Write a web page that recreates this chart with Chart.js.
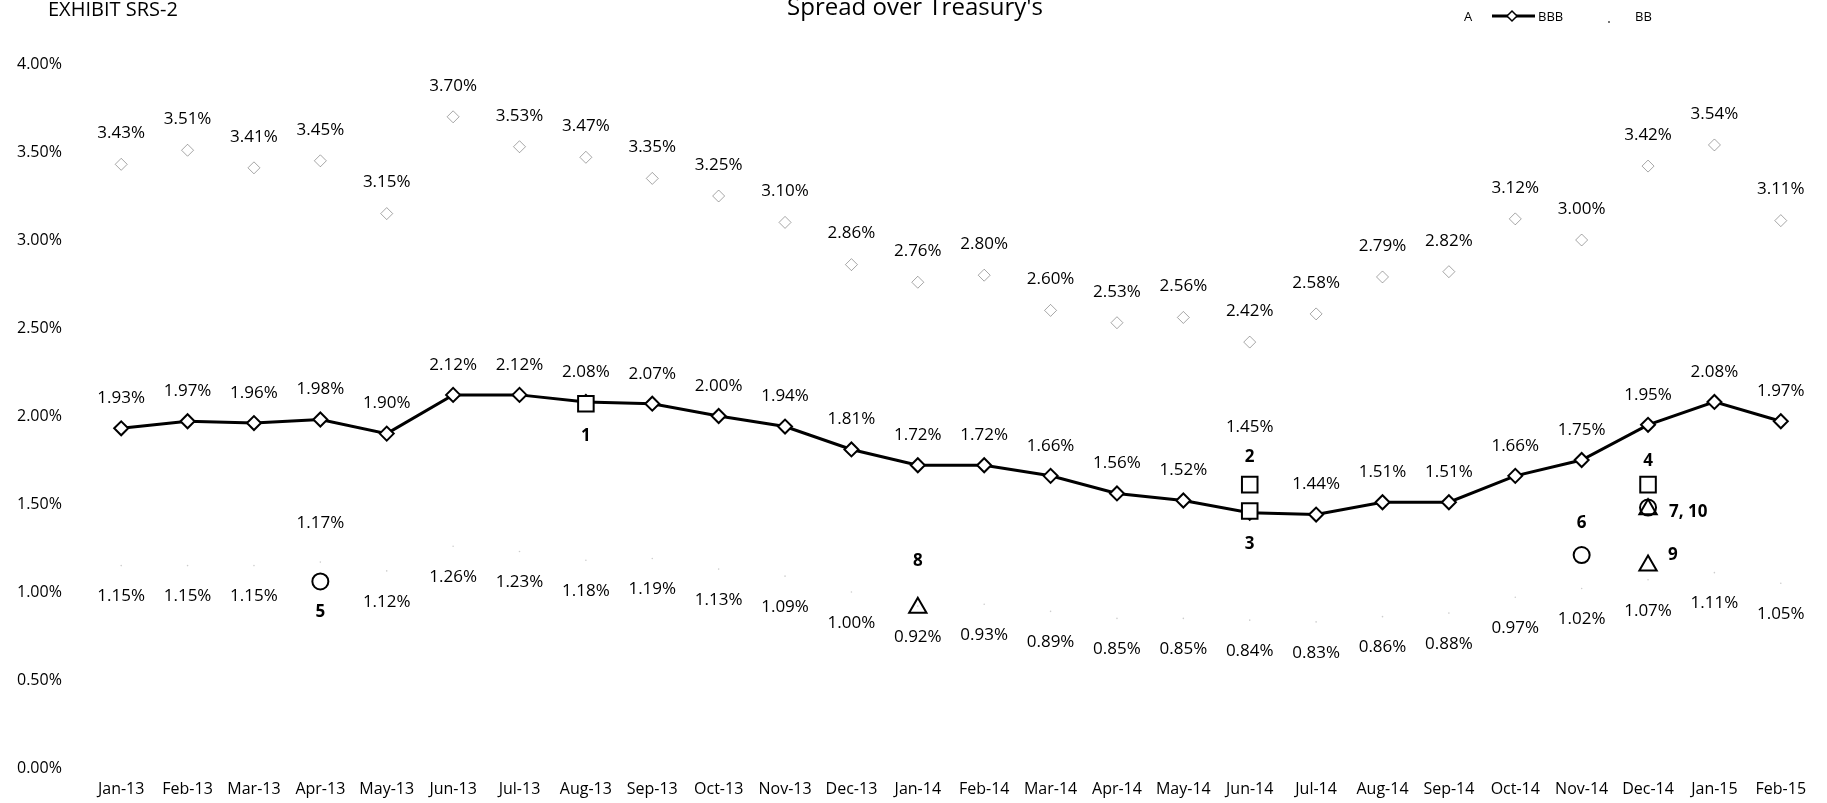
<!DOCTYPE html>
<html lang="en">
<head>
    <meta charset="UTF-8">
    <title>Spread over Treasury's</title>
    <script src="https://cdn.jsdelivr.net/npm/chart.js"></script>
    <style>
        body {
            margin: 0;
            background-color: #fff;
        }

        .chart-box {
            position: relative;
            width: 1827px;
            height: 803px;
        }
    </style>
</head>
<body>
    <div class="chart-box">
        <canvas id="spreadChart"></canvas>
    </div>

    <script>
        // Months on the x axis
        const months = ['Jan-13', 'Feb-13', 'Mar-13', 'Apr-13', 'May-13', 'Jun-13', 'Jul-13', 'Aug-13', 'Sep-13',
            'Oct-13', 'Nov-13', 'Dec-13', 'Jan-14', 'Feb-14', 'Mar-14', 'Apr-14', 'May-14', 'Jun-14', 'Jul-14',
            'Aug-14', 'Sep-14', 'Oct-14', 'Nov-14', 'Dec-14', 'Jan-15', 'Feb-15'];

        // Spreads in percent
        const spreadA = [1.15, 1.15, 1.15, 1.17, 1.12, 1.26, 1.23, 1.18, 1.19, 1.13, 1.09, 1.00, 0.92,
            0.93, 0.89, 0.85, 0.85, 0.84, 0.83, 0.86, 0.88, 0.97, 1.02, 1.07, 1.11, 1.05];
        const spreadBBB = [1.93, 1.97, 1.96, 1.98, 1.90, 2.12, 2.12, 2.08, 2.07, 2.00, 1.94, 1.81, 1.72,
            1.72, 1.66, 1.56, 1.52, 1.45, 1.44, 1.51, 1.51, 1.66, 1.75, 1.95, 2.08, 1.97];
        const spreadBB = [3.43, 3.51, 3.41, 3.45, 3.15, 3.70, 3.53, 3.47, 3.35, 3.25, 3.10, 2.86, 2.76,
            2.80, 2.60, 2.53, 2.56, 2.42, 2.58, 2.79, 2.82, 3.12, 3.00, 3.42, 3.54, 3.11];

        // Numbered markers placed on the chart
        const squareMonths = ['Aug-13', 'Jun-14', 'Jun-14', 'Dec-14'];
        const squareValues = [2.07, 1.61, 1.46, 1.61];
        const squareTags = ['1', '2', '3', '4'];

        const circleMonths = ['Apr-13', 'Nov-14', 'Dec-14'];
        const circleValues = [1.06, 1.21, 1.48];
        const circleTags = ['5', '6', '7, 10'];

        const triangleMonths = ['Jan-14', 'Dec-14', 'Dec-14'];
        const triangleValues = [0.91, 1.15, 1.47];
        const triangleTags = ['8', '9', ''];

        const yTicks = [0, 0.5, 1, 1.5, 2, 2.5, 3, 3.5, 4];

        function toPoints(xs, ys) {
            return xs.map((m, i) => ({ x: m, y: ys[i] }));
        }

        const FONT = '"Open Sans", "Noto Sans", sans-serif';

        // value labels above / below the points
        const valueLabels = {
            id: 'valueLabels',
            afterDatasetsDraw(chart, args, opts) {
                const ctx = chart.ctx;
                ctx.save();
                ctx.font = '17px ' + FONT;
                ctx.fillStyle = '#000';
                ctx.textAlign = 'center';
                ctx.textBaseline = 'middle';
                chart.data.datasets.forEach((ds, i) => {
                    const cfg = opts.series[ds.label];
                    if (!cfg) return;
                    chart.getDatasetMeta(i).data.forEach((pt, j) => {
                        const dy = cfg.shift[j] !== undefined ? cfg.shift[j] : cfg.dy;
                        ctx.fillText(ds.data[j].toFixed(2) + '%', pt.x, pt.y + dy);
                    });
                });

                // marker numbers
                ctx.font = 'bold 17px ' + FONT;
                chart.data.datasets.forEach((ds, i) => {
                    if (!ds.tags) return;
                    const offs = opts.tagOffsets[ds.label];
                    chart.getDatasetMeta(i).data.forEach((pt, j) => {
                        if (!ds.tags[j]) return;
                        ctx.textAlign = offs[j][0] > 0 ? 'left' : 'center';
                        ctx.fillText(ds.tags[j], pt.x + offs[j][0], pt.y + offs[j][1]);
                    });
                });
                ctx.restore();
            }
        };

        // exhibit name, title and legend
        const header = {
            id: 'header',
            afterDraw(chart) {
                const ctx = chart.ctx;
                ctx.save();
                ctx.fillStyle = '#000';
                ctx.textBaseline = 'alphabetic';
                ctx.textAlign = 'left';
                ctx.font = '20px ' + FONT;
                ctx.fillText('EXHIBIT SRS-2', 48, 16);

                ctx.textAlign = 'center';
                ctx.font = '24px ' + FONT;
                ctx.fillText("Spread over Treasury's", 915, 15);

                ctx.textAlign = 'left';
                ctx.textBaseline = 'middle';
                ctx.font = '13px ' + FONT;
                ctx.fillText('A', 1464, 17);

                ctx.strokeStyle = '#000';
                ctx.lineWidth = 3;
                ctx.beginPath();
                ctx.moveTo(1492, 16);
                ctx.lineTo(1535, 16);
                ctx.stroke();
                ctx.lineWidth = 1.5;
                ctx.fillStyle = '#fff';
                ctx.beginPath();
                ctx.moveTo(1507, 16);
                ctx.lineTo(1512, 11);
                ctx.lineTo(1517, 16);
                ctx.lineTo(1512, 21);
                ctx.closePath();
                ctx.fill();
                ctx.stroke();
                ctx.fillStyle = '#000';
                ctx.fillText('BBB', 1538, 17);

                ctx.fillStyle = '#777';
                ctx.fillRect(1608, 21, 2, 2);
                ctx.fillStyle = '#000';
                ctx.fillText('BB', 1635, 17);
                ctx.restore();
            }
        };

        const ctx = document.getElementById('spreadChart').getContext('2d');

        const spreadChart = new Chart(ctx, {
            type: 'line',
            data: {
                labels: months,
                datasets: [
                    {
                        label: 'squares',
                        data: toPoints(squareMonths, squareValues),
                        tags: squareTags,
                        showLine: false,
                        pointStyle: 'rect',
                        pointRadius: 11,
                        borderColor: '#000',
                        backgroundColor: '#fff',
                        pointBorderWidth: 2,
                        order: 0
                    },
                    {
                        label: 'circles',
                        data: toPoints(circleMonths, circleValues),
                        tags: circleTags,
                        showLine: false,
                        pointStyle: 'circle',
                        pointRadius: 8,
                        borderColor: '#000',
                        backgroundColor: '#fff',
                        pointBorderWidth: 2,
                        order: 1
                    },
                    {
                        label: 'triangles',
                        data: toPoints(triangleMonths, triangleValues),
                        tags: triangleTags,
                        showLine: false,
                        pointStyle: 'triangle',
                        pointRadius: 10,
                        borderColor: '#000',
                        backgroundColor: 'rgba(255,255,255,0)',
                        pointBorderWidth: 2,
                        order: 0
                    },
                    {
                        label: 'BBB',
                        data: spreadBBB,
                        borderColor: '#000',
                        borderWidth: 3,
                        pointStyle: 'rectRot',
                        pointRadius: 7,
                        pointBorderWidth: 2,
                        pointBackgroundColor: '#fff',
                        pointBorderColor: '#000',
                        order: 2
                    },
                    {
                        label: 'BB',
                        data: spreadBB,
                        showLine: false,
                        pointStyle: 'rectRot',
                        pointRadius: 6,
                        pointBorderWidth: 1,
                        pointBackgroundColor: '#fff',
                        pointBorderColor: 'rgba(0,0,0,0.35)',
                        order: 3
                    },
                    {
                        label: 'A',
                        data: spreadA,
                        showLine: false,
                        pointRadius: 0.8,
                        pointBorderWidth: 0,
                        pointBackgroundColor: 'rgba(0,0,0,0.2)',
                        order: 4
                    }
                ]
            },
            options: {
                responsive: true,
                maintainAspectRatio: false,
                animation: false,
                layout: {
                    padding: { top: 64, left: 17, right: 12, bottom: 0 }
                },
                scales: {
                    x: {
                        type: 'category',
                        offset: true,
                        grid: { display: false, drawTicks: false },
                        border: { display: false },
                        ticks: {
                            color: '#000',
                            font: { family: FONT, size: 16 },
                            padding: 12,
                            maxRotation: 0,
                            autoSkip: false
                        },
                        afterFit(scale) { scale.height = 35; }
                    },
                    y: {
                        min: 0,
                        max: 4,
                        grid: { display: false, drawTicks: false },
                        border: { display: false },
                        afterBuildTicks(scale) {
                            scale.ticks = yTicks.map(v => ({ value: v }));
                        },
                        ticks: {
                            color: '#000',
                            crossAlign: 'far',
                            font: { family: FONT, size: 16 },
                            callback: (v) => Number(v).toFixed(2) + '%'
                        },
                        afterFit(scale) { scale.width = 71; }
                    }
                },
                plugins: {
                    legend: { display: false },
                    tooltip: { enabled: false },
                    valueLabels: {
                        series: {
                            A: { dy: 31, shift: { 3: -39 } },
                            BBB: { dy: -30, shift: { 17: -86 } },
                            BB: { dy: -31, shift: {} }
                        },
                        tagOffsets: {
                            squares: [[0, 32], [0, -27], [0, 33], [0, -23]],
                            circles: [[0, 31], [0, -32], [21, 5]],
                            triangles: [[0, -47], [20, -10], [0, 0]]
                        }
                    }
                }
            },
            plugins: [valueLabels, header]
        });
    </script>
</body>
</html>
